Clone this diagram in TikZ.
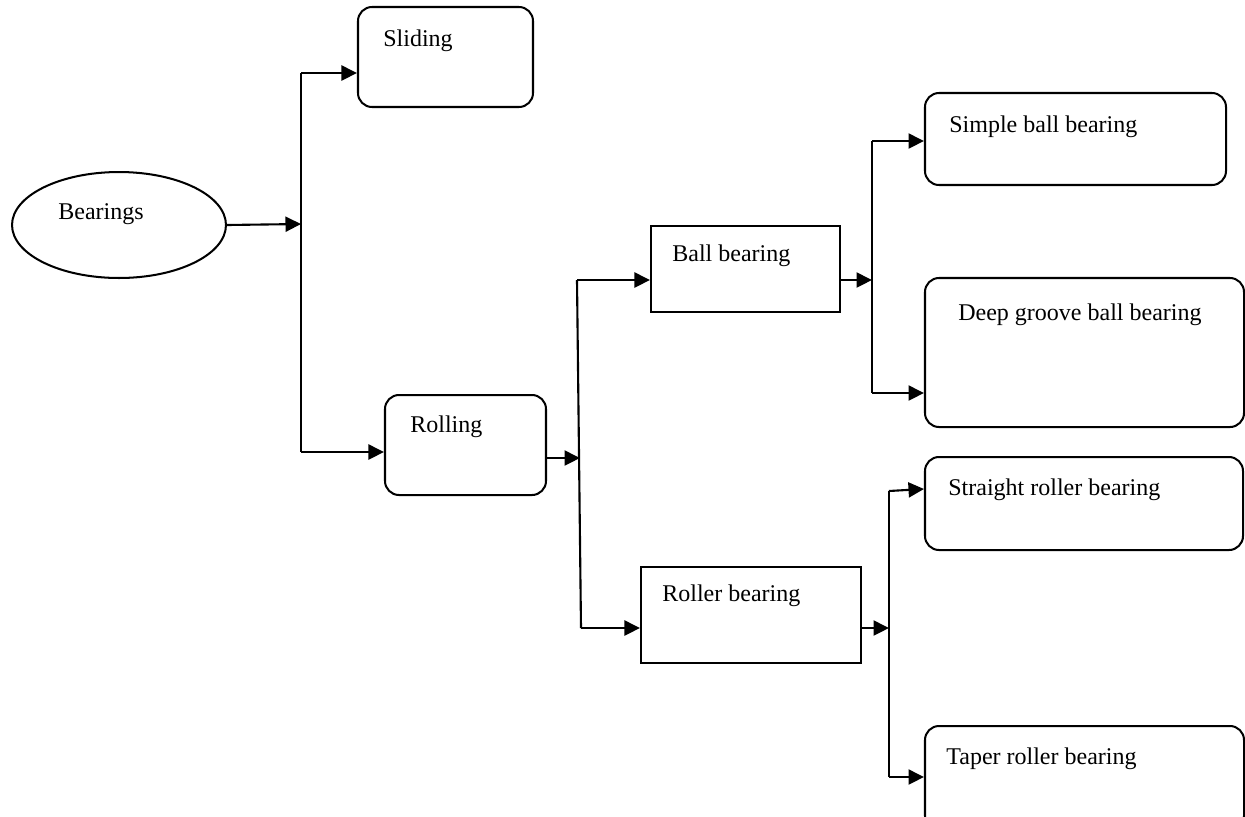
\documentclass[tikz,border=0pt]{standalone}
\usepackage{fontspec}
\setmainfont{Liberation Serif}
\usetikzlibrary{arrows.meta,fit,shapes.geometric,calc}
\tikzset{
  box/.style={draw, line width=1.15pt, inner sep=0pt},
  rbox/.style={box, rounded corners=0.28cm},
  lbl/.style={anchor=base west, inner sep=0pt, font=\fontsize{13.66}{16}\selectfont},
  conn/.style={line width=1.2pt},
  arr/.style={conn, -{Triangle[length=0.31cm,width=0.30cm]}}
}
\begin{document}
\begin{tikzpicture}[x=0.02cm,y=-0.02cm]
\useasboundingbox (0,0) rectangle (1245,816);
\begin{scope}
\clip (0,0) rectangle (1245,816);
% nodes
\node[draw, ellipse, line width=1.15pt, minimum width=4.28cm, minimum height=2.12cm, inner sep=0pt] (bear) at (119,225) {};
\node[rbox, fit={(358,7)(533,107)}] (sliding) {};
\node[rbox, fit={(385,395)(546,495)}] (rolling) {};
\node[box, fit={(651,226)(840,312)}] (ball) {};
\node[box, fit={(641,567)(861,663)}] (roller) {};
\node[rbox, fit={(925,93)(1226,185)}] (simple) {};
\node[rbox, fit={(925,278)(1244,427)}] (deep) {};
\node[rbox, fit={(925,457)(1243,550)}] (straight) {};
\node[rbox, fit={(925,726)(1244,830)}] (taper) {};
% labels
\node[lbl] (tbear) at (58,219) {Bearings};
\node[lbl] (tsliding) at (383,46) {Sliding};
\node[lbl] (trolling) at (410,432) {Rolling};
\node[lbl] (tball) at (672,261) {Ball bearing};
\node[lbl] (troller) at (662,601) {Roller bearing};
\node[lbl] (tsimple) at (949,132) {Simple ball bearing};
\node[lbl] (tdeep) at (958,320) {Deep groove ball bearing};
\node[lbl] (tstraight) at (948,495) {Straight roller bearing};
\node[lbl] (ttaper) at (946,764) {Taper roller bearing};
% junctions
\coordinate (a0) at (301,224);
\coordinate (a1) at (301,73);
\coordinate (a2) at (301,452);
\coordinate (b0) at (580,458);
\coordinate (b1) at (577,280);
\coordinate (b2) at (581,628);
\coordinate (c0) at (872,280);
\coordinate (c1) at (872,141);
\coordinate (c2) at (872,393);
\coordinate (d0) at (889,628);
\coordinate (d1) at (889,491);
\coordinate (d2) at (889,777);
% connectors
\draw[arr] (bear.east) -- (a0);
\draw[conn] (a1) -- (a2);
\draw[arr] (a1) -- (a1 -| sliding.west);
\draw[arr] (a2) -- (a2 -| rolling.west);
\draw[arr] (rolling.east |- b0) -- (b0);
\draw[conn] (b1) -- (b2);
\draw[arr] (b1) -- (b1 -| ball.west);
\draw[arr] (b2) -- (b2 -| roller.west);
\draw[arr] (ball.east |- c0) -- (c0);
\draw[conn] (c1) -- (c2);
\draw[arr] (c1) -- (c1 -| simple.west);
\draw[arr] (c2) -- (c2 -| deep.west);
\draw[arr] (roller.east |- d0) -- (d0);
\draw[conn] (d1) -- (d2);
\draw[arr] (d1) -- ($(straight.north west)+(0,33)$);
\draw[arr] (d2) -- (d2 -| taper.west);
\end{scope}
\end{tikzpicture}
\end{document}
